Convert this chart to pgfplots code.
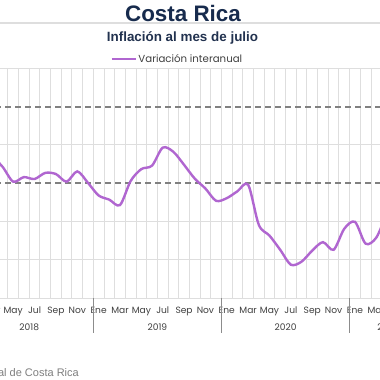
\documentclass[border=0pt]{standalone}
\usepackage{pgfplots}
\pgfplotsset{compat=1.18}
\usepackage{fontspec}
\setmainfont{Liberation Sans}
\newfontfamily\gothic{Poppins}
\definecolor{purp}{HTML}{B066D0}
\definecolor{navy}{HTML}{172B4D}
\definecolor{subnavy}{HTML}{22324F}
\definecolor{gridlight}{HTML}{DEDEDE}
\definecolor{griddark}{HTML}{B4B4B4}
\definecolor{sepgray}{HTML}{8C8C8C}
\definecolor{dashgray}{HTML}{808080}
\definecolor{labelgray}{HTML}{404040}
\definecolor{srcgray}{HTML}{7F7F7F}
\begin{document}
\begin{tikzpicture}[x=1pt,y=1pt]
\clip (0,-380) rectangle (380,0);
\fill[white] (0,-380) rectangle (380,0);
\draw[gridlight, line width=1.5pt] (0,-23) -- (380,-23);
\node[anchor=base, font=\fontsize{22.4}{24}\selectfont\bfseries, text=navy, inner sep=0pt] at (183,-21) {Costa Rica};
\node[anchor=base, font=\fontsize{13.4}{15}\selectfont\bfseries, text=subnavy, inner sep=0pt] at (182.5,-41.7) {Inflación al mes de julio};
\begin{axis}[
  at={(-34.86pt,-298pt)}, anchor=south west, scale only axis,
  width=459.24pt, height=229.56pt,
  xmin=-0.5, xmax=42.5, ymin=-1, ymax=5,
  axis line style={draw=none},
  ytick={-1,1,3,5}, yticklabels={},
  ymajorgrids,
  ytick style={draw=none},
  y grid style={gridlight, line width=1pt},
  extra y ticks={0,1}, extra y tick labels={},
  extra y tick style={grid style={griddark, line width=1pt}, tick style={draw=none}},
  xtick={0,2,...,42},
  xticklabels={Ene,Mar,May,Jul,Sep,Nov,Ene,Mar,May,Jul,Sep,Nov,Ene,Mar,May,Jul,Sep,Nov,Ene,Mar,May,Jul},
  minor xtick={-0.5,0.5,...,42.5},
  xminorgrids,
  minor x grid style={gridlight, line width=0.9pt},
  major tick length=0pt, minor tick length=0pt,
  xticklabel style={anchor=base, yshift=-15.5pt, font=\gothic\fontsize{9.1}{10}\selectfont, text=labelgray, inner sep=0pt},
  legend style={at={(axis description cs:0.3176,1.041)}, anchor=west, draw=none, fill=none, inner sep=0pt, outer sep=0pt,
     font=\gothic\fontsize{10.2}{12}\selectfont, text=labelgray, nodes={inner sep=1.5pt}},
  legend image code/.code={\draw[purp, line width=2pt] (0pt,0pt) -- (24pt,0pt);},
  clip=false,
]
\draw[dashgray, line width=1.8pt, dash pattern=on 6pt off 4pt] (axis cs:-0.5,2) -- (axis cs:42.5,2);
\draw[dashgray, line width=1.8pt, dash pattern=on 6pt off 4pt] (axis cs:-0.5,4) -- (axis cs:42.5,4);
\draw[gridlight, line width=1pt] (axis cs:-0.5,-1) -- (axis cs:42.5,-1);
\draw[sepgray, line width=0.9pt] (axis cs:-0.5,-1) -- ([yshift=-35pt]axis cs:-0.5,-1);
\draw[sepgray, line width=0.9pt] (axis cs:11.5,-1) -- ([yshift=-35pt]axis cs:11.5,-1);
\draw[sepgray, line width=0.9pt] (axis cs:23.5,-1) -- ([yshift=-35pt]axis cs:23.5,-1);
\draw[sepgray, line width=0.9pt] (axis cs:35.5,-1) -- ([yshift=-35pt]axis cs:35.5,-1);
\node[anchor=base, font=\gothic\fontsize{9.1}{10}\selectfont, text=labelgray, inner sep=0pt] at ([yshift=-32pt]axis cs:5.5,-1) {2018};
\node[anchor=base, font=\gothic\fontsize{9.1}{10}\selectfont, text=labelgray, inner sep=0pt] at ([yshift=-32pt]axis cs:17.5,-1) {2019};
\node[anchor=base, font=\gothic\fontsize{9.1}{10}\selectfont, text=labelgray, inner sep=0pt] at ([yshift=-32pt]axis cs:29.5,-1) {2020};
\node[anchor=base, font=\gothic\fontsize{9.1}{10}\selectfont, text=labelgray, inner sep=0pt] at ([yshift=-32pt]axis cs:39,-1) {2021};
\addplot[purp, line width=2.4pt, smooth, tension=0.5] coordinates {
(0,2.9) (1,2.8) (2,2.7) (3,2.43) (4,2.04) (5,2.16) (6,2.11) (7,2.27) (8,2.24)
(9,2.04) (10,2.31) (11,2.01) (12,1.68) (13,1.57) (14,1.43) (15,2.06) (16,2.37)
(17,2.46) (18,2.93) (19,2.82) (20,2.48) (21,2.12) (22,1.86) (23,1.54) (24,1.61)
(25,1.79) (26,1.96) (27,0.91) (28,0.63) (29,0.26) (30,-0.13) (31,-0.05) (32,0.24)
(33,0.46) (34,0.26) (35,0.81) (36,0.99) (37,0.42) (38,0.58) (39,1.2) (40,1.6)
(41,1.8) (42,1.7)
};
\addlegendentry{Variación interanual}
\end{axis}
\node[anchor=base east, font=\fontsize{11}{12}\selectfont, text=srcgray, inner sep=0pt] at (79,-376.7) {Fuente: Banco Central de Costa Rica};
\end{tikzpicture}
\end{document}
